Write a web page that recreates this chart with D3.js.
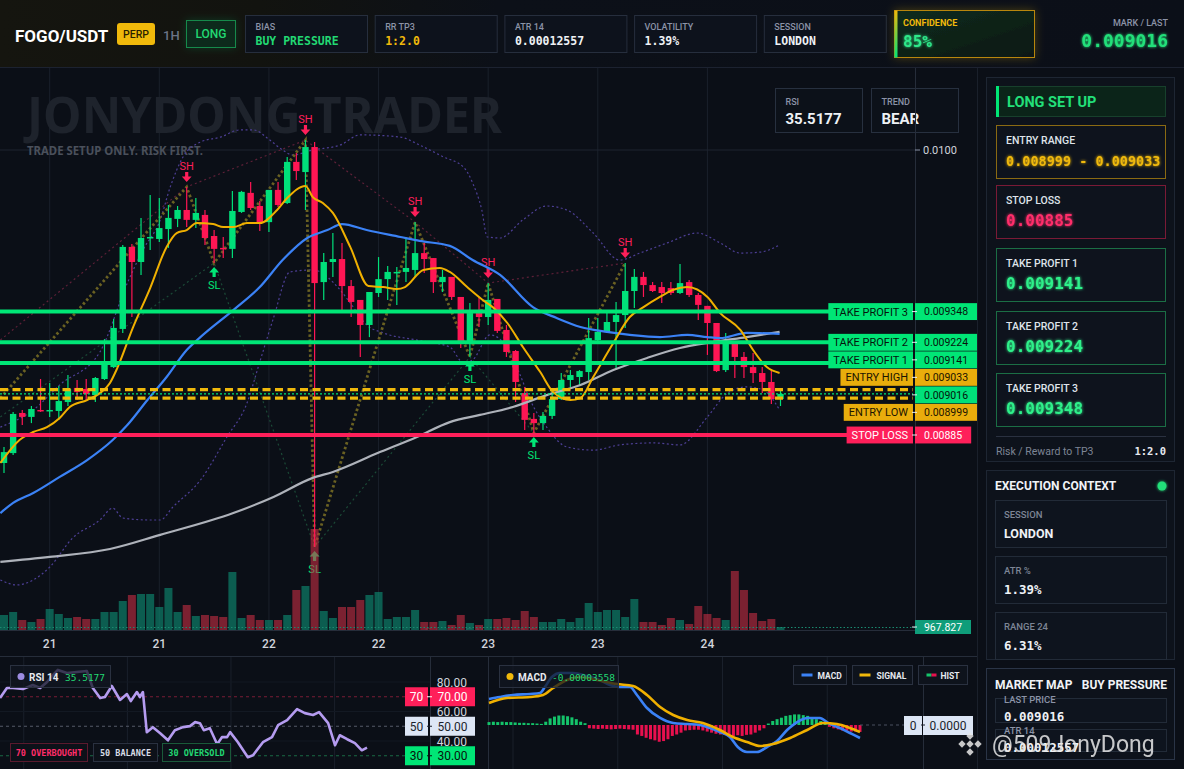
<!DOCTYPE html>
<html><head><meta charset="utf-8">
<script src="https://cdn.jsdelivr.net/npm/d3@7/dist/d3.min.js"></script>
<style>html,body{margin:0;padding:0;background:#0b0f17;overflow:hidden}svg{display:block}</style>
</head><body>
<svg id="c" width="1184" height="769"></svg>
<script>
// ===================== DATA =====================
const symbol = "FOGO/USDT";
const timeframe = "1H";
const xTickIdx = [5, 17, 29, 41, 53, 65, 77];
const xTickLabels = ["21", "21", "22", "22", "23", "23", "24"];
const priceTicks = [0.0100];

const openP = [0.008737,0.008777,0.008939,0.008923,0.008951,0.008947,0.008947,0.008983,0.009040,0.009036,
0.009011,0.009076,0.009124,0.009278,0.009609,0.009548,0.009645,0.009641,0.009681,0.009722,
0.009758,0.009718,0.009738,0.009653,0.009605,0.009601,0.009750,0.009827,0.009774,0.009709,
0.009839,0.009786,0.009952,0.009911,0.010012,0.009467,0.009548,0.009560,0.009451,0.009395,
0.009294,0.009423,0.009479,0.009504,0.009508,0.009516,0.009584,0.009564,0.009467,0.009488,
0.009407,0.009221,0.009342,0.009326,0.009399,0.009274,0.009189,0.009019,0.008915,0.008898,
0.008927,0.008995,0.009072,0.009084,0.009104,0.009233,0.009266,0.009306,0.009334,0.009431,
0.009488,0.009455,0.009447,0.009443,0.009423,0.009467,0.009415,0.009371,0.009302,0.009112,
0.009221,0.009165,0.009124,0.009100,0.009064,0.008995];
const highP = [0.008802,0.008943,0.008951,0.008967,0.009076,0.009060,0.009048,0.009092,0.009072,0.009076,
0.009084,0.009237,0.009318,0.009617,0.009621,0.009726,0.009818,0.009806,0.009778,0.009774,
0.009851,0.009806,0.009758,0.009677,0.009649,0.009835,0.009835,0.009871,0.009794,0.009839,
0.009871,0.009972,0.009988,0.010040,0.010032,0.009584,0.009665,0.009625,0.009475,0.009395,
0.009427,0.009568,0.009532,0.009528,0.009649,0.009709,0.009625,0.009564,0.009516,0.009488,
0.009407,0.009383,0.009407,0.009463,0.009399,0.009294,0.009193,0.009044,0.008939,0.008943,
0.009032,0.009100,0.009112,0.009112,0.009322,0.009322,0.009342,0.009387,0.009544,0.009520,
0.009508,0.009467,0.009467,0.009467,0.009540,0.009475,0.009423,0.009371,0.009302,0.009262,
0.009225,0.009185,0.009181,0.009124,0.009112,0.009036];
const lowP = [0.008697,0.008769,0.008890,0.008898,0.008943,0.008923,0.008911,0.008967,0.008991,0.008991,
0.008983,0.009072,0.009120,0.009262,0.009326,0.009496,0.009596,0.009629,0.009605,0.009689,
0.009689,0.009685,0.009617,0.009544,0.009564,0.009564,0.009746,0.009758,0.009673,0.009669,
0.009770,0.009782,0.009879,0.009758,0.008398,0.009395,0.009488,0.009342,0.009326,0.009165,
0.009245,0.009407,0.009395,0.009375,0.009467,0.009488,0.009504,0.009423,0.009427,0.009395,
0.009201,0.009165,0.009286,0.009294,0.009262,0.009165,0.008983,0.008870,0.008858,0.008870,
0.008915,0.008991,0.009044,0.009052,0.009072,0.009225,0.009262,0.009112,0.009282,0.009362,
0.009407,0.009427,0.009383,0.009415,0.009419,0.009407,0.009314,0.009173,0.009104,0.009104,
0.009080,0.009080,0.009060,0.009019,0.008975,0.008967];
const closeP = [0.008781,0.008935,0.008923,0.008955,0.008947,0.008951,0.008987,0.009036,0.009024,0.009015,
0.009080,0.009145,0.009282,0.009609,0.009548,0.009645,0.009649,0.009685,0.009726,0.009758,
0.009718,0.009746,0.009645,0.009601,0.009601,0.009754,0.009831,0.009766,0.009709,0.009839,
0.009778,0.009952,0.009915,0.010012,0.009463,0.009548,0.009560,0.009451,0.009387,0.009294,
0.009427,0.009479,0.009508,0.009508,0.009524,0.009584,0.009560,0.009467,0.009488,0.009407,
0.009225,0.009342,0.009326,0.009395,0.009270,0.009185,0.009064,0.008911,0.008898,0.008927,
0.008995,0.009072,0.009092,0.009108,0.009241,0.009266,0.009306,0.009334,0.009431,0.009488,
0.009455,0.009431,0.009423,0.009423,0.009463,0.009415,0.009375,0.009302,0.009108,0.009221,
0.009165,0.009124,0.009100,0.009064,0.008995,0.009016];
const volume = [4845,5814,3230,2584,3553,6783,5168,3876,4199,3553,
3553,5814,5814,9367,11305,11628,11628,7429,13566,5814,
8075,4522,4845,4522,4199,18734,3876,4845,3230,3230,
3230,4845,12920,14212,32623,6137,3876,7429,7429,9690,
11305,12274,3553,4199,4199,6460,2584,2584,2907,1615,
4845,2261,1615,3553,3553,3876,3230,6137,4199,2584,
2584,3553,2584,3876,8721,5814,6460,6460,4199,10013,
2584,2584,1615,3876,3230,1938,7752,5168,3876,3230,
19057,12920,5491,2907,3553,967.827];

// indicator lines: [candle index, price]
const emaFast = [[-0.4,0.008737],[1.7,0.008830],[3.2,0.008862],[4.7,0.008882],[6.1,0.008919],[7.2,0.008963],[9.1,0.008991],[10.5,0.009019],[11.6,0.009060],[12.4,0.009120],[14.1,0.009282],[16.0,0.009443],[17.8,0.009609],[18.9,0.009665],[20.0,0.009677],[21.1,0.009705],[22.9,0.009701],[24.0,0.009689],[25.1,0.009689],[26.6,0.009705],[28.0,0.009705],[29.9,0.009758],[31.0,0.009806],[33.0,0.009855],[33.8,0.009810],[34.9,0.009786],[36.0,0.009746],[37.9,0.009609],[39.9,0.009451],[41.5,0.009447],[43.0,0.009439],[43.9,0.009447],[45.9,0.009516],[47.7,0.009524],[48.8,0.009508],[50.7,0.009447],[52.4,0.009395],[53.5,0.009366],[55.1,0.009302],[56.8,0.009205],[58.7,0.009104],[60.1,0.009024],[62.0,0.008991],[63.1,0.008999],[64.5,0.009084],[66.7,0.009221],[68.5,0.009326],[70.0,0.009366],[71.8,0.009407],[73.2,0.009435],[74.8,0.009447],[77.0,0.009407],[78.4,0.009342],[80.6,0.009274],[82.0,0.009193],[83.5,0.009124],[84.9,0.009100]];
const maMid = [[-0.4,0.008535],[1.0,0.008576],[3.2,0.008616],[6.1,0.008681],[9.1,0.008749],[11.9,0.008830],[13.5,0.008890],[15.7,0.008991],[17.8,0.009084],[20.0,0.009193],[21.5,0.009245],[25.1,0.009354],[28.0,0.009447],[30.5,0.009556],[33.2,0.009645],[35.4,0.009677],[37.0,0.009701],[39.7,0.009677],[43.4,0.009649],[45.5,0.009633],[48.8,0.009613],[51.3,0.009556],[54.3,0.009496],[57.9,0.009366],[60.5,0.009322],[63.1,0.009286],[66.0,0.009266],[68.5,0.009254],[71.8,0.009245],[74.8,0.009254],[77.0,0.009245],[78.4,0.009241],[81.3,0.009262],[84.9,0.009258]];
const maSlow = [[-0.4,0.008338],[5.0,0.008358],[11.6,0.008390],[17.1,0.008447],[25.1,0.008535],[29.5,0.008600],[33.8,0.008677],[36.0,0.008701],[40.9,0.008777],[45.2,0.008842],[48.8,0.008902],[52.1,0.008931],[55.7,0.008963],[59.4,0.009011],[63.1,0.009052],[66.7,0.009112],[70.4,0.009161],[74.0,0.009201],[77.6,0.009225],[81.3,0.009245],[84.9,0.009266]];
const bbUpper = [[-0.4,0.008882],[3.2,0.008951],[6.1,0.009052],[10.5,0.009185],[13.5,0.009463],[15.2,0.009596],[17.1,0.009718],[18.2,0.009851],[19.6,0.009972],[21.5,0.010032],[23.7,0.010052],[25.8,0.010081],[27.3,0.010081],[29.1,0.010040],[30.5,0.010000],[31.6,0.009980],[33.8,0.010000],[36.8,0.010020],[39.0,0.010061],[43.4,0.010052],[45.5,0.010020],[48.1,0.009972],[50.3,0.009931],[51.3,0.009867],[52.3,0.009758],[52.9,0.009649],[54.3,0.009645],[56.8,0.009718],[59.4,0.009774],[61.6,0.009758],[64.5,0.009665],[67.4,0.009556],[69.6,0.009584],[72.6,0.009625],[75.9,0.009665],[78.4,0.009625],[80.6,0.009584],[82.8,0.009588],[84.9,0.009617]];
const bbLower = [[-0.4,0.008265],[1.4,0.008245],[3.2,0.008265],[5.0,0.008317],[7.5,0.008434],[10.5,0.008507],[11.9,0.008555],[13.0,0.008515],[16.0,0.008507],[17.1,0.008507],[18.5,0.008560],[21.5,0.008668],[24.4,0.008842],[26.6,0.008979],[28.0,0.009145],[29.5,0.009322],[31.3,0.009508],[33.8,0.009516],[36.8,0.009435],[37.9,0.009383],[39.7,0.009294],[41.5,0.009262],[45.2,0.009233],[48.8,0.009205],[50.3,0.009141],[51.3,0.009153],[53.2,0.009254],[55.1,0.009201],[56.5,0.009092],[57.6,0.008991],[59.4,0.008882],[61.6,0.008802],[64.5,0.008789],[67.4,0.008810],[71.1,0.008818],[74.0,0.008810],[77.0,0.008923],[79.2,0.009019],[81.3,0.009044],[83.1,0.009032],[84.9,0.008951]];

// swing points (candle index) and the off-screen start points of the dotted structure lines
const swings = [{i:20,t:"SH"},{i:23,t:"SL"},{i:33,t:"SH"},{i:34,t:"SL"},{i:45,t:"SH"},{i:51,t:"SL"},{i:53,t:"SH"},{i:58,t:"SL"},{i:68,t:"SH"}];
const zigzagStart = [-0.4, 0.008999];
const highsStart = [-0.4, 0.009233];
const lowsStart = [-0.4, 0.008923];

// trade levels
const levelNames = ["TAKE PROFIT 3","TAKE PROFIT 2","TAKE PROFIT 1","ENTRY HIGH","","ENTRY LOW","STOP LOSS"];
const levelValues = [0.009348, 0.009224, 0.009141, 0.009033, 0.009016, 0.008999, 0.00885];
const levelKinds = ["tp","tp","tp","entry","last","entry","sl"];

// header stats
const statLabels = ["BIAS","RR TP3","ATR 14","VOLATILITY","SESSION"];
const statValues = ["BUY PRESSURE","1:2.0","0.00012557","1.39%","LONDON"];
const confidence = "85%";
const lastPrice = "0.009016";
const rsiValue = 35.5177;
const trend = "BEAR";
const contextLabels = ["SESSION","ATR %","RANGE 24"];
const contextValues = ["LONDON","1.39%","6.31%"];
const marketMapLabels = ["LAST PRICE","ATR 14"];
const marketMapValues = ["0.009016","0.00012557"];

// RSI panel (index on the panel's own time scale, value)
const rsiLine = [[0,69.1],[1.6,75.9],[3.0,75.9],[5.3,75.2],[7.6,78.0],[9.3,75.9],[10.9,80.0],[12.3,84.8],[13.4,88.2],[15.5,86.1],[17.8,86.8],[20.1,87.5],[21.5,75.9],[23.2,69.1],[24.3,69.8],[25.9,77.3],[27.8,67.8],[29.4,71.8],[30.3,67.1],[31.7,73.2],[32.4,69.8],[33.1,73.2],[34.0,46.0],[35.4,49.4],[37.1,45.3],[38.9,40.5],[40.5,47.3],[42.4,49.4],[44.0,50.1],[45.2,52.8],[46.3,52.1],[47.2,47.3],[48.6,48.7],[50.3,37.8],[51.4,42.6],[52.6,42.6],[53.3,46.0],[55.1,39.2],[57.4,29.0],[58.6,30.3],[60.9,39.2],[63.0,42.6],[64.4,50.7],[66.5,54.1],[68.8,61.6],[70.6,58.9],[72.5,57.6],[73.9,59.6],[76.0,52.1],[77.6,37.1],[78.7,43.9],[80.4,41.2],[82.2,38.5],[83.8,33.7],[85,35.5177]];
const rsiTicks = [80, 60, 40];
const rsiLevels = [70, 50, 30];
const rsiButtons = ["70 OVERBOUGHT","50 BALANCE","30 OVERSOLD"];

// MACD panel
const macdLine = [[0,7.12e-5],[2.5,7.67e-5],[5.5,8.22e-5],[9.4,8.49e-5],[11.7,8.77e-5],[12.8,10.41e-5],[14.4,13.15e-5],[16.3,14.25e-5],[19.2,14.25e-5],[22.5,13.42e-5],[25.4,12.33e-5],[27.7,10.96e-5],[30.0,10.41e-5],[32.3,10.41e-5],[33.9,8.22e-5],[36.2,4.66e-5],[39.2,1.92e-5],[42.2,0.55e-5],[45.4,0.27e-5],[48.3,0],[50.6,-0.82e-5],[52.9,-1.92e-5],[55.2,-3.29e-5],[57.0,-6.03e-5],[59.1,-7.40e-5],[61.4,-7.40e-5],[63.7,-6.03e-5],[66.0,-4.38e-5],[68.3,-1.37e-5],[70.6,0.82e-5],[73.1,1.92e-5],[75.8,1.92e-5],[77.7,0.55e-5],[80.4,-0.82e-5],[82.7,-2.19e-5],[85,-0.00003558]];
const signalLine = [[0,6.03e-5],[4.1,7.40e-5],[9.4,7.67e-5],[12.4,8.22e-5],[14.7,10.14e-5],[17.9,12.33e-5],[20.8,13.15e-5],[24.7,12.33e-5],[29.3,11.23e-5],[33.0,10.68e-5],[36.2,8.22e-5],[39.2,4.93e-5],[42.2,2.74e-5],[45.4,1.37e-5],[49.0,0.55e-5],[52.9,-1.37e-5],[55.9,-3.29e-5],[59.1,-4.66e-5],[62.1,-5.75e-5],[65.1,-5.21e-5],[69.0,-3.56e-5],[72.9,-1.37e-5],[76.5,0.55e-5],[79.7,0.27e-5],[82.7,-0.82e-5],[85,-1.92e-5]];
const macdHist = [0.8,0.9,0.8,0.9,0.8,0.8,0.7,0.6,0.6,0.5,0.5,0.4,
0.3,0.9,1.8,2.3,2.6,2.6,2.4,2.1,1.6,0.9,0.5,
-0.9,-1.0,-1.1,-1.0,-1.1,-1.2,-1.1,-1.0,-1.1,-1.2,-1.3,
-2.6,-3.0,-3.5,-3.9,-4.2,-4.6,-4.4,-3.9,-3.0,-2.6,-2.1,
-1.5,-1.4,-1.3,-1.3,-1.5,
-1.8,-2.1,-2.4,-2.6,-2.7,-3.0,-3.0,-2.8,-3.0,-2.7,-2.6,-2.1,-1.5,-0.9,
0.4,1.1,1.6,2.0,2.5,2.7,2.9,2.9,2.7,2.5,2.0,1.6,1.1,0.6,
-0.5,-0.9,-1.2,-1.5,-1.6,-1.8,-1.8,-1.9].map(v => v * 1e-5);
const macdLegend = ["MACD","SIGNAL","HIST"];

// ===================== DRAWING =====================
const SANS = "Roboto, 'Noto Sans', 'DejaVu Sans', sans-serif";
const MONO = "'DejaVu Sans Mono', 'Liberation Mono', monospace";
const GREEN = "#00e676", RED = "#ff1f5a", GOLD = "#f0b90b";
const svg = d3.select("#c");
const defs = svg.append("defs");

function T(sel, x, y, s, o = {}) {
  return sel.append("text").attr("x", x).attr("y", y).text(s)
    .attr("font-family", o.ff || SANS).attr("font-size", o.fs || 11)
    .attr("font-weight", o.fw || 400).attr("fill", o.fill || "#e6e9ef")
    .attr("text-anchor", o.anchor || "start");
}
function R(sel, x, y, w, h, o = {}) {
  return sel.append("rect").attr("x", x).attr("y", y).attr("width", w).attr("height", h)
    .attr("rx", o.rx || 0).attr("fill", o.fill || "none")
    .attr("stroke", o.stroke || "none").attr("stroke-width", o.sw || 1);
}
function L(sel, x1, y1, x2, y2, stroke, sw = 1, dash = null) {
  const l = sel.append("line").attr("x1", x1).attr("y1", y1).attr("x2", x2).attr("y2", y2)
    .attr("stroke", stroke).attr("stroke-width", sw);
  if (dash) l.attr("stroke-dasharray", dash);
  return l;
}

// filters / gradients
const glow = defs.append("filter").attr("id", "glow").attr("x", "-20%").attr("y", "-60%").attr("width", "140%").attr("height", "220%");
glow.append("feGaussianBlur").attr("in", "SourceGraphic").attr("stdDeviation", 1.8).attr("result", "b");
const gm = glow.append("feMerge"); gm.append("feMergeNode").attr("in", "b"); gm.append("feMergeNode").attr("in", "SourceGraphic");
const gg = defs.append("filter").attr("id", "goldglow").attr("x", "-30%").attr("y", "-60%").attr("width", "160%").attr("height", "220%");
gg.append("feDropShadow").attr("dx", 0).attr("dy", 0).attr("stdDeviation", 5).attr("flood-color", GOLD).attr("flood-opacity", 0.28);
const lg = defs.append("filter").attr("id", "greenglow").attr("x", "-40%").attr("y", "-60%").attr("width", "180%").attr("height", "220%");
lg.append("feDropShadow").attr("dx", 0).attr("dy", 0).attr("stdDeviation", 4).attr("flood-color", GREEN).attr("flood-opacity", 0.18);
const tg = defs.append("linearGradient").attr("id", "topbar").attr("x1", 0).attr("x2", 1).attr("y1", 0).attr("y2", 0);
[[0, "#15150f"], [0.22, "#12130f"], [0.42, "#0c1018"], [1, "#0b0f18"]].forEach(s => tg.append("stop").attr("offset", s[0]).attr("stop-color", s[1]));
const cg = defs.append("linearGradient").attr("id", "conf").attr("x1", 0).attr("x2", 1).attr("y1", 0).attr("y2", 1);
[[0, "#0b2c1d"], [1, "#0b1814"]].forEach(s => cg.append("stop").attr("offset", s[0]).attr("stop-color", s[1]));
const cb = defs.append("linearGradient").attr("id", "confbar").attr("x1", 0).attr("x2", 0).attr("y1", 0).attr("y2", 1);
[[0, GOLD], [1, GREEN]].forEach(s => cb.append("stop").attr("offset", s[0]).attr("stop-color", s[1]));
defs.append("clipPath").attr("id", "mainClip").append("rect").attr("x", 0).attr("y", 68).attr("width", 915).attr("height", 562);

// background
R(svg, 0, 0, 1184, 769, { fill: "#0b0f17" });

// ---------- top bar ----------
R(svg, 0, 0, 1184, 67, { fill: "url(#topbar)" });
L(svg, 0, 67.5, 1184, 67.5, "#1c2230");
T(svg, 15, 42, symbol, { fs: 17, fw: 700, fill: "#ffffff" });
R(svg, 117, 23, 38, 22, { fill: GOLD, rx: 3 });
T(svg, 136, 38, "PERP", { fs: 10.5, fw: 500, fill: "#2a1f00", anchor: "middle" });
T(svg, 163, 40, timeframe, { fs: 13, fw: 500, fill: "#6b7386" });
R(svg.append("g").attr("filter", "url(#greenglow)"), 186.5, 20.5, 49, 27, { fill: "#0b2a1b", stroke: "#168a4c" });
T(svg, 211, 38, "LONG", { fs: 12, fw: 500, fill: "#22d873", anchor: "middle" });
const statColors = ["#22d873", GOLD, "#eef1f5", "#eef1f5", "#eef1f5"];
statLabels.forEach((lab, k) => {
  const x = 245.5 + k * 129.7;
  R(svg, x, 15.5, 122, 37, { fill: "#0d121c", stroke: "#262e3d" });
  T(svg, x + 10, 30, lab, { fs: 9, fw: 500, fill: "#8b93a7" });
  T(svg, x + 10, 45, statValues[k], { ff: MONO, fs: 11.5, fw: 700, fill: statColors[k] });
});
const cgp = svg.append("g").attr("filter", "url(#goldglow)");
R(cgp, 894.5, 10.5, 140, 47, { fill: "url(#conf)", stroke: "#b8860b" });
R(svg, 894.5, 10.5, 3, 47, { fill: "url(#confbar)" });
T(svg, 903, 26, "CONFIDENCE", { fs: 9, fw: 700, fill: GOLD });
T(svg, 903, 47, confidence, { ff: MONO, fs: 16, fw: 700, fill: "#2ee88a" }).attr("filter", "url(#glow)");
T(svg, 1168, 26, "MARK / LAST", { fs: 9, fw: 500, fill: "#8b93a7", anchor: "end" });
T(svg, 1168, 47, lastPrice, { ff: MONO, fs: 18, fw: 700, fill: "#22e07a", anchor: "end" }).attr("filter", "url(#glow)");

// ---------- main chart ----------
const xS = d3.scaleLinear().domain([0, 85]).range([4, 780.5]);
const yS = d3.scaleLinear().domain([0.00885, 0.0100]).range([435, 150]);
const yV = d3.scaleLinear().domain([0, d3.max(volume)]).range([630, 529]);
const main = svg.append("g").attr("clip-path", "url(#mainClip)");

main.selectAll(".vg").data(xTickIdx).join("line").attr("x1", d => xS(d)).attr("x2", d => xS(d))
  .attr("y1", 68).attr("y2", 630).attr("stroke", "#1a202b");
main.selectAll(".hg").data(priceTicks).join("line").attr("x1", 0).attr("x2", 915)
  .attr("y1", d => yS(d)).attr("y2", d => yS(d)).attr("stroke", "#1e2430");

// watermarks
T(main, 27, 133, "JONYDONG TRADER", { fs: 50, fw: 700, fill: "#1e232c", ff: "'Noto Sans', Roboto, sans-serif" })
  .attr("textLength", 475).attr("lengthAdjust", "spacingAndGlyphs");
T(main, 27, 155, "TRADE SETUP ONLY. RISK FIRST.", { fs: 12, fw: 700, fill: "#4a505b", ff: "'Noto Sans', Roboto, sans-serif" })
  .attr("textLength", 176).attr("lengthAdjust", "spacingAndGlyphs");
T(main, 487, 637, "FALLEN ANGEL", { fs: 12, fw: 500, fill: "#2a2f38", anchor: "middle" })
  .attr("letter-spacing", 3.5);

const line = d3.line().x(d => xS(d[0])).y(d => yS(d[1]));
const curve = d3.line().x(d => xS(d[0])).y(d => yS(d[1])).curve(d3.curveMonotoneX);

// bollinger bands
[bbUpper, bbLower].forEach(b => main.append("path").attr("d", curve(b)).attr("fill", "none")
  .attr("stroke", "#4d3f95").attr("stroke-width", 1.2).attr("stroke-dasharray", "2,2.5"));

// structure lines
const swingPrice = s => s.t === "SH" ? highP[s.i] : lowP[s.i];
const zig = [zigzagStart, ...swings.map(s => [s.i, swingPrice(s)])];
const highsL = [highsStart, ...swings.filter(s => s.t === "SH").map(s => [s.i, swingPrice(s)])];
const lowsL = [lowsStart, ...swings.filter(s => s.t === "SL").map(s => [s.i, swingPrice(s)])];
main.append("path").attr("d", line(highsL)).attr("fill", "none").attr("stroke", "#5e2038").attr("stroke-width", 1.2).attr("stroke-dasharray", "2,3");
main.append("path").attr("d", line(lowsL)).attr("fill", "none").attr("stroke", "#1b4a37").attr("stroke-width", 1.2).attr("stroke-dasharray", "2,3");
main.append("path").attr("d", line(zig)).attr("fill", "none").attr("stroke", "#6a6122").attr("stroke-width", 2.8).attr("stroke-dasharray", "2.5,2.5");

// swing markers
function arrowDown(x, yc) { return `M${x-1.6},${yc-6}h3.2v4.5h3.3l-4.9,5.5l-4.9,-5.5h3.3z`; }
function arrowUp(x, yc) { return `M${x-1.6},${yc+6}h3.2v-4.5h3.3l-4.9,-5.5l-4.9,5.5h3.3z`; }
swings.forEach(s => {
  const x = xS(s.i);
  if (s.t === "SH") {
    const yh = yS(highP[s.i]);
    main.append("path").attr("d", arrowDown(x, yh - 9)).attr("fill", RED);
    T(main, x, yh - 17, "SH", { fs: 11, fill: RED, anchor: "middle" });
  } else {
    const yl = yS(lowP[s.i]);
    main.append("path").attr("d", arrowUp(x, yl + 8)).attr("fill", GREEN);
    T(main, x, yl + 26, "SL", { fs: 11, fill: GREEN, anchor: "middle" });
  }
});

// volume
main.selectAll(".vol").data(volume).join("rect")
  .attr("x", (d, i) => xS(i) - 4).attr("width", 8)
  .attr("y", d => yV(d)).attr("height", d => 630 - yV(d))
  .attr("fill", (d, i) => closeP[i] >= openP[i] ? "#0e9176" : "#c62d42").attr("opacity", 0.6);
L(main, 0, yV(volume[85]) + 0.5, 915, yV(volume[85]) + 0.5, "#1a8a70", 1, "1.5,2");
L(svg, 0, 630.5, 915, 630.5, "#262d3a");

// candles
const cand = main.append("g");
openP.forEach((o, i) => {
  const c = closeP[i], up = c >= o, col = up ? "#00e07a" : "#ff1654", x = xS(i);
  L(cand, x, yS(highP[i]), x, yS(lowP[i]), col, 1.2);
  const y1 = yS(Math.max(o, c)), y2 = yS(Math.min(o, c));
  R(cand, x - 3.2, y1, 6.4, Math.max(1.5, y2 - y1), { fill: col });
});

// moving averages
main.append("path").attr("d", curve(maSlow)).attr("fill", "none").attr("stroke", "#aeb2ba").attr("stroke-width", 2.2);
main.append("path").attr("d", curve(maMid)).attr("fill", "none").attr("stroke", "#3b82f6").attr("stroke-width", 2.2);
main.append("path").attr("d", curve(emaFast)).attr("fill", "none").attr("stroke", "#f0b000").attr("stroke-width", 2);

// trade levels
levelValues.forEach((v, k) => {
  const y = yS(v), kind = levelKinds[k];
  if (kind === "tp") L(main, 0, y, 913, y, GREEN, 4);
  else if (kind === "sl") L(main, 0, y, 913, y, RED, 4);
  else if (kind === "entry") L(main, 0, y, 913, y, GOLD, 3.2, "8,4.5");
  else L(main, 0, y, 913, y, GREEN, 1.2, "2,2");
});

// RSI / TREND boxes
[["RSI", String(rsiValue)], ["TREND", trend]].forEach((p, k) => {
  const x = 775.5 + k * 96;
  R(svg, x, 88.5, 87, 44, { fill: "#0c1119", stroke: "#27303f" });
  T(svg, x + 10, 105, p[0], { fs: 9, fw: 500, fill: "#8b93a7" });
  T(svg, x + 10, 124, p[1], { fs: 15, fw: 700, fill: "#eef1f5" });
});

// price axis
L(svg, 915.5, 68, 915.5, 630, "#262d3a");
priceTicks.forEach(p => {
  L(svg, 915, yS(p), 920, yS(p), "#8b93a7");
  T(svg, 923, yS(p) + 4, p.toFixed(4), { fs: 11, fill: "#d1d4dc" });
});

// level labels with collision avoidance
const LH = 17.5;
let items = levelValues.map((v, k) => ({ k, y: yS(v) })).sort((a, b) => a.y - b.y);
let clusters = items.map(it => ({ items: [it], top: it.y - LH / 2 }));
let merged = true;
while (merged) {
  merged = false;
  for (let j = 0; j < clusters.length - 1; j++) {
    const a = clusters[j], b = clusters[j + 1];
    if (a.top + a.items.length * LH > b.top) {
      const its = a.items.concat(b.items);
      const mean = d3.mean(its, d => d.y);
      clusters.splice(j, 2, { items: its, top: mean - its.length * LH / 2 });
      merged = true; break;
    }
  }
}
const labG = svg.append("g");
const styleFor = { tp: [GREEN, "#06140c"], entry: ["#e9ad0c", "#1c1500"], last: ["#00e07a", "#06140c"], sl: [RED, "#ffffff"] };
clusters.forEach(cl => cl.items.forEach((it, n) => {
  const yc = cl.top + n * LH + LH / 2, k = it.k;
  const [bg, fg] = styleFor[levelKinds[k]];
  const vt = T(labG, 0, 0, String(levelValues[k]), { fs: 10.5, fill: fg });
  const vw = vt.node().getComputedTextLength() + 18;
  R(labG, 915, yc - LH / 2 + 0.3, vw, LH - 0.6, { fill: bg }).lower();
  vt.attr("x", 915 + vw / 2).attr("y", yc + 3.8).attr("text-anchor", "middle");
  if (levelNames[k]) {
    const nt = T(labG, 0, 0, levelNames[k], { fs: 11, fill: fg });
    const nw = nt.node().getComputedTextLength() + 10;
    R(labG, 913 - nw, yc - LH / 2 + 0.3, nw, LH - 0.6, { fill: bg }).lower();
    nt.attr("x", 913 - nw / 2).attr("y", yc + 4).attr("text-anchor", "middle");
  }
  L(labG, 912, yc, 917, yc, "#e6e9ef", 1);
}));

// volume axis label
const vy = yV(volume[85]);
R(svg, 915, vy - 7, 56, 14, { fill: "#0f9d7a" });
L(svg, 912, vy, 917, vy, "#e6e9ef");
T(svg, 943, vy + 4, String(volume[85]), { fs: 10.5, fill: "#ffffff", anchor: "middle" });

// x axis
xTickIdx.forEach((d, k) => T(svg, xS(d), 648, xTickLabels[k], { fs: 12, fw: 500, fill: "#d1d4dc", anchor: "middle" }));
L(svg, 0, 656.5, 977, 656.5, "#262d3a");
L(svg, 977.5, 68, 977.5, 769, "#1a202b");

// ---------- RSI panel ----------
const xR = d3.scaleLinear().domain([0, 85]).range([0, 367]);
const yR = d3.scaleLinear().domain([40, 80]).range([741, 682]);
const subGrid = [5.5, 29.5, 53.5, 77.5];
subGrid.forEach(d => L(svg, xR(d), 657, xR(d), 769, "#1a202b"));
rsiTicks.forEach(v => L(svg, 0, yR(v), 430, yR(v), "#131923"));
const rsiLevelCol = ["#7a1c36", "#555b68", "#1a6a45"];
rsiLevels.forEach((v, k) => L(svg, 0, yR(v), 405, yR(v), rsiLevelCol[k], 1, "3,3"));
svg.append("path").attr("d", d3.line().x(d => xR(d[0])).y(d => yR(d[1]))(rsiLine))
  .attr("fill", "none").attr("stroke", "#b59cf0").attr("stroke-width", 2.6).attr("stroke-linejoin", "round");
L(svg, 430.5, 657, 430.5, 769, "#262d3a");
rsiTicks.forEach(v => T(svg, 467, yR(v) + 4.5, v.toFixed(2), { fs: 12, fill: "#d1d4dc", anchor: "end" }));
const rsiBox = [[RED, "#ffffff"], ["#dde6f5", "#1a1f2b"], [GREEN, "#06140c"]];
rsiLevels.forEach((v, k) => {
  const y = yR(v);
  R(svg, 405, y - 9.5, 23, 19, { fill: rsiBox[k][0] });
  R(svg, 430, y - 9.5, 45, 19, { fill: rsiBox[k][0] });
  L(svg, 427, y, 432, y, rsiBox[k][1]);
  T(svg, 416.5, y + 4.5, String(v), { fs: 12, fill: rsiBox[k][1], anchor: "middle" });
  T(svg, 452.5, y + 4.5, v.toFixed(2), { fs: 12, fill: rsiBox[k][1], anchor: "middle" });
});
R(svg, 10.5, 665.5, 100, 22, { fill: "#111722", stroke: "#2a3140" }).attr("fill-opacity", 0.75);
svg.append("circle").attr("cx", 21).attr("cy", 676.5).attr("r", 3.5).attr("fill", "#9c8ce0");
T(svg, 29, 680.5, "RSI 14", { fs: 10, fw: 700, fill: "#e6e9ef" });
T(svg, 65, 680.5, String(rsiValue), { ff: MONO, fs: 9.5, fill: "#22d873" });
const rbx = [[10.5, 77, "#5a1a2e", "#ff2d6a"], [93.5, 64, "#2a3140", "#d8dce6"], [162.5, 68, "#1a5a3a", "#22d873"]];
rsiButtons.forEach((s, k) => {
  const [x, w, st, fc] = rbx[k];
  R(svg, x, 743.5, w, 18, { fill: "#0d1119", stroke: st });
  T(svg, x + w / 2, 755.5, s, { ff: MONO, fs: 8.5, fw: 700, fill: fc, anchor: "middle" });
});

// ---------- MACD panel ----------
const xM = d3.scaleLinear().domain([0, 85]).range([489, 860]);
const yM = d3.scaleLinear().domain([0, 1e-4]).range([725, 688.5]);
L(svg, 488.5, 657, 488.5, 769, "#262d3a");
subGrid.forEach(d => L(svg, xM(d), 657, xM(d), 769, "#1a202b"));
svg.selectAll(".hist").data(macdHist).join("rect")
  .attr("x", (d, i) => xM(i) - 1.5).attr("width", 3)
  .attr("y", d => Math.min(yM(d), yM(0))).attr("height", d => Math.abs(yM(d) - yM(0)))
  .attr("fill", d => d >= 0 ? "#14c46a" : "#e8104e");
const mline = d3.line().x(d => xM(d[0])).y(d => yM(d[1])).curve(d3.curveMonotoneX);
svg.append("path").attr("d", mline(macdLine)).attr("fill", "none").attr("stroke", "#3b82f6").attr("stroke-width", 2.6);
svg.append("path").attr("d", mline(signalLine)).attr("fill", "none").attr("stroke", "#f0b000").attr("stroke-width", 2.6);
L(svg, 860, yM(0), 904, yM(0), "#4a5060", 1, "3,3");
L(svg, 923.5, 657, 923.5, 769, "#262d3a");
R(svg, 904, yM(0) - 9, 18, 19, { fill: "#dde6f5" });
R(svg, 923, yM(0) - 9, 50, 19, { fill: "#dde6f5" });
L(svg, 921, yM(0), 925, yM(0), "#1a1f2b");
T(svg, 913, yM(0) + 5, "0", { fs: 12, fill: "#1a1f2b", anchor: "middle" });
T(svg, 948, yM(0) + 5, (0).toFixed(4), { fs: 12, fill: "#1a1f2b", anchor: "middle" });
R(svg, 499.5, 665.5, 119, 22, { fill: "#111722", stroke: "#2a3140" }).attr("fill-opacity", 0.75);
svg.append("circle").attr("cx", 510).attr("cy", 676.5).attr("r", 3.5).attr("fill", GOLD);
T(svg, 518, 680.5, "MACD", { fs: 10, fw: 700, fill: "#e6e9ef" });
T(svg, 552, 680.5, macdLine[macdLine.length - 1][1].toFixed(8), { ff: MONO, fs: 9.5, fill: "#22d873" });
const mbx = [[793.5, 53], [852.5, 60], [918.5, 49]];
macdLegend.forEach((s, k) => {
  const [x, w] = mbx[k];
  R(svg, x, 665.5, w, 19, { fill: "#0e131c", stroke: "#2a3140" });
  if (k === 0) L(svg, x + 8, 675, x + 19, 675, "#3b82f6", 3);
  if (k === 1) L(svg, x + 7, 675, x + 18, 675, GOLD, 3);
  if (k === 2) { R(svg, x + 8, 673.5, 5, 3, { fill: "#14c46a" }); R(svg, x + 13, 673.5, 5, 3, { fill: "#e8104e" }); }
  T(svg, x + (k === 2 ? 22 : 24) , 678.5, s, { fs: 8.5, fw: 700, fill: "#e6e9ef" });
});

// ---------- right sidebar ----------
R(svg, 986.5, 77.5, 188, 384, { fill: "#0d121b", stroke: "#1e2633" });
R(svg, 996.5, 86.5, 169, 30, { fill: "#0b2419", stroke: "#17402c" });
R(svg, 996, 86, 3, 31, { fill: GREEN });
T(svg, 1007, 107, "LONG SET UP", { fs: 14.5, fw: 700, fill: "#22e07a" });
const cards = [
  { label: "ENTRY RANGE", value: `${levelValues[5]} - ${levelValues[3]}`, y: 125, st: "#8a6a12", col: GOLD, fs: 13.5 },
  { label: "STOP LOSS", value: String(levelValues[6]), y: 185, st: "#7a1a36", col: "#ff2d6a", fs: 16 },
  { label: "TAKE PROFIT 1", value: String(levelValues[2]), y: 248, st: "#1b6e45", col: "#2ef08a", fs: 16 },
  { label: "TAKE PROFIT 2", value: String(levelValues[1]), y: 311, st: "#1b6e45", col: "#2ef08a", fs: 16 },
  { label: "TAKE PROFIT 3", value: String(levelValues[0]), y: 373, st: "#1b6e45", col: "#2ef08a", fs: 16 }
];
cards.forEach(c => {
  R(svg, 996.5, c.y + 0.5, 169, 53, { fill: "#0e131d", stroke: c.st });
  T(svg, 1006, c.y + 19, c.label, { fs: 10.5, fw: 500, fill: "#dfe3ea" });
  T(svg, 1006, c.y + 41, c.value, { ff: MONO, fs: c.fs, fw: 700, fill: c.col }).attr("filter", "url(#glow)");
});
L(svg, 996, 436.5, 1166, 436.5, "#2a3140");
T(svg, 996, 455, "Risk / Reward to TP3", { fs: 10.5, fill: "#7d8595" });
T(svg, 1166, 455, statValues[1], { ff: MONO, fs: 10.5, fw: 700, fill: "#e6e9ef", anchor: "end" });

R(svg, 986.5, 470.5, 188, 189, { fill: "#0d121b", stroke: "#1e2633" });
T(svg, 995, 490, "EXECUTION CONTEXT", { fs: 12, fw: 700, fill: "#f1f3f7" });
svg.append("circle").attr("cx", 1162).attr("cy", 486).attr("r", 4.5).attr("fill", "#22e07a").attr("filter", "url(#glow)");
contextLabels.forEach((lab, k) => {
  const y = 500.5 + k * 56;
  R(svg, 995.5, y, 171, 47, { fill: "#0e141e", stroke: "#222b38" });
  T(svg, 1004, y + 17, lab, { fs: 9.5, fw: 500, fill: "#7d8595" });
  T(svg, 1004, y + 37, contextValues[k], { ff: k === 0 ? SANS : MONO, fs: 12.5, fw: 700, fill: "#eef1f5" });
});

R(svg, 986.5, 668.5, 188, 91, { fill: "#0d121b", stroke: "#2a3446" });
T(svg, 995, 689, "MARKET MAP", { fs: 12, fw: 700, fill: "#f1f3f7" });
T(svg, 1167, 689, statValues[0], { fs: 12, fw: 700, fill: "#f1f3f7", anchor: "end" });
marketMapLabels.forEach((lab, k) => {
  const y = k === 0 ? 698.5 : 729.5;
  R(svg, 995.5, y, 171, k === 0 ? 24 : 22, { fill: "#0e141e", stroke: "#222b38" });
  T(svg, 1004, y + 4.5, lab, { fs: 9.5, fw: 500, fill: "#8b93a7" });
  T(svg, 1004, y + 22, marketMapValues[k], { ff: MONO, fs: 12.5, fw: 700, fill: "#eef1f5" });
});

// platform watermark
const wm = svg.append("g").attr("opacity", 0.85);
[[0, -8], [-8, 0], [8, 0], [0, 8], [0, 0]].forEach(p =>
  wm.append("rect").attr("x", 970 + p[0] - 2.6).attr("y", 744 + p[1] - 2.6).attr("width", 5.2).attr("height", 5.2)
    .attr("transform", `rotate(45 ${970 + p[0]} ${744 + p[1]})`).attr("fill", "#e8e8e8"));
T(wm, 992, 752, "@509JonyDong", { fs: 23, fill: "#e8e8e8" });
</script>
</body></html>
